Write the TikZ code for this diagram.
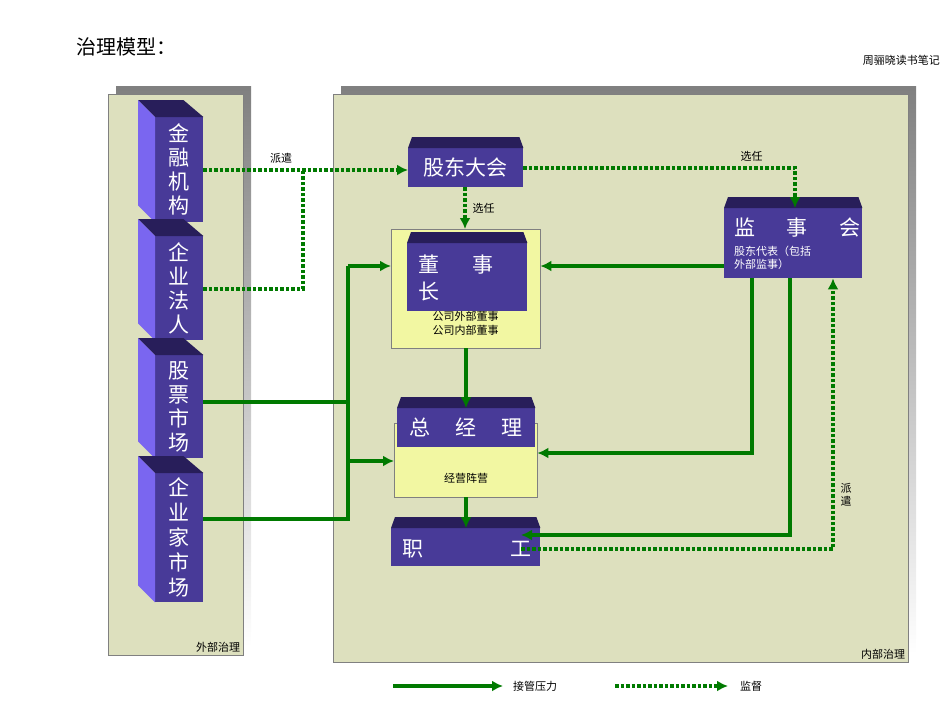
\documentclass[tikz,border=0pt]{standalone}
\usepackage{fontspec}
\setmainfont{Noto Sans CJK SC}
\usetikzlibrary{positioning,calc}
\definecolor{panel}{HTML}{DDE0BE}
\definecolor{shade}{HTML}{C0C0C0}
\definecolor{front}{HTML}{483A98}
\definecolor{capc}{HTML}{281E5A}
\definecolor{sidec}{HTML}{7A66F0}
\definecolor{pale}{HTML}{F2F7A2}
\definecolor{arr}{HTML}{007A00}
\tikzset{
  face/.style={fill=front, inner sep=0pt, anchor=north west},
  big/.style={text=white, font=\fontsize{21}{24}\selectfont, inner sep=0pt},
  small/.style={font=\fontsize{11}{13}\selectfont, inner sep=0pt},
  push/.style={draw=arr, line width=3.2pt, -{Latex[length=11pt,width=11pt]}},
  watch/.style={draw=arr, line width=3.2pt, dash pattern=on 3.5pt off 2pt, -{Latex[length=11pt,width=11pt]}},
}
\usetikzlibrary{arrows.meta}
% left column blocks: front face with a slanted top and side
\newcommand{\slab}[5]{%
  \node[face, minimum width=#3-#1, minimum height=#4-#2] (#5) at (#1,#2) {};
  \fill[capc] (#5.north west) -- ++(-17,-17) -- ($(#5.north east)+(-20,-17)$) -- (#5.north east) -- cycle;
  \fill[sidec] (#5.north west) -- ++(-17,-17) -- ($(#5.south west)+(-17,-17)$) -- (#5.south west) -- cycle;
}
% right blocks: front face with a flat cap
\newcommand{\plate}[5]{%
  \node[face, minimum width=#3-#1, minimum height=#4-#2] (#5) at (#1,#2) {};
  \fill[capc] (#5.north west) -- ++(4,-11) -- ($(#5.north east)+(-4,-11)$) -- (#5.north east) -- cycle;
}
\begin{document}
\begin{tikzpicture}[x=1pt, y=-1pt]
  \useasboundingbox (0,0) rectangle (950,713);

  % panels
  \fill[shade] (116,86) rectangle (251,647);
  \node[fill=panel, draw=gray, inner sep=0pt, minimum width=135, minimum height=561, anchor=north west] (outer) at (108,94) {};
  \fill[shade] (341,86) rectangle (916,654);
  \node[fill=panel, draw=gray, inner sep=0pt, minimum width=575, minimum height=568, anchor=north west] (inner) at (333,94) {};
  \node[small, anchor=south east] at ($(outer.south east)+(-3,-3)$) {外部治理};
  \node[small, anchor=south east] at ($(inner.south east)+(-3,-3)$) {内部治理};

  \node[anchor=west, font=\fontsize{20}{22}\selectfont] (title) at (73,47) {治理模型：};
  \node[anchor=east, small] (note) at (940,60) {周骊晓读书笔记};

  % outside parties
  \slab{155}{117}{203}{222}{bank}
  \slab{155}{236}{203}{340}{firm}
  \slab{155}{355}{203}{458}{stock}
  \slab{155}{473}{203}{602}{boss}
  \node[big, align=center] at (bank) {金\\融\\机\\构};
  \node[big, align=center] at (firm) {企\\业\\法\\人};
  \node[big, align=center] at (stock) {股\\票\\市\\场};
  \node[big, align=center, font=\fontsize{21}{25}\selectfont] at (boss) {企\\业\\家\\市\\场};

  % inside bodies
  \plate{408}{148}{523}{187}{meet}
  \node[big] at (meet) {股东大会};

  \node[fill=pale, draw=gray, inner sep=0pt, minimum width=149, minimum height=119, anchor=north west] (board) at (391,229) {};
  \node[small, anchor=north] (bin) at ($(board.north)+(0,82)$) {公司外部董事};
  \node[small, below=3pt of bin] {公司内部董事};
  \plate{407}{243}{527}{311}{chair}
  \node[big, anchor=west] at (418,265) {董\hspace{1.6em}事};
  \node[big, anchor=west] at (418,292) {长};

  \node[fill=pale, draw=gray, inner sep=0pt, minimum width=143, minimum height=74, anchor=north west] (mgmt) at (394,423) {};
  \node[small] at (466,478) {经营阵营};
  \plate{397}{408}{535}{447}{ceo}
  \node[big] at (ceo) {总\hspace{1.2em}经\hspace{1.2em}理};

  \plate{391}{528}{540}{566}{staff}
  \node[big, anchor=west] at (402,549) {职};
  \node[big, anchor=east] (gong) at (532,549) {工};

  \plate{724}{208}{862}{278}{super}
  \node[big, anchor=west] at (734,228) {监\hspace{1.5em}事\hspace{1.5em}会};
  \node[small, anchor=west, text=white, align=left] at (734,258) {股东代表（包括\\外部监事）};

  % supervision (dashed)
  \draw[watch] (bank.east |- 0,170) -- (meet.west |- 0,170) node[pos=0.38, above=5pt, small, text=black] {派遣};
  \draw[watch, -] (firm.east |- 0,289) -- (303,289) -- (303,170);
  \draw[watch] (meet.east |- 0,168) -| (super.north -| 795,0) node[pos=0.42, above=5pt, small, text=black] {选任};
  \draw[watch] (meet.south -| 465,0) -- (board.north -| 465,0) node[midway, right=6pt, small, text=black] {选任};
  \draw[watch] (gong.center |- 0,549) -| (super.south -| 833,0) node[pos=0.6, right=6pt, small, text=black, align=center] {派\\遣};

  % takeover pressure (solid)
  \draw[push, -] (stock.east |- 0,402) -- (348,402);
  \draw[push, -] (boss.east |- 0,519) -- (348,519) -- (348,266);
  \draw[push] (348,266) -- (board.west |- 0,266);
  \draw[push] (348,461) -- (mgmt.west |- 0,461);
  \draw[push] (super.west |- 0,266) -- (board.east |- 0,266);
  \draw[push] (super.south -| 752,0) |- (mgmt.east |- 0,453);
  \draw[push] (super.south -| 790,0) |- (521,535);
  \draw[push] (board.south -| 466,0) -- (ceo.north -| 466,0);
  \draw[push] (mgmt.south -| 466,0) -- (staff.north -| 466,0);

  % legend
  \coordinate (la) at (393,686);
  \coordinate (lb) at (503,686);
  \coordinate (lc) at (615,686);
  \coordinate (ld) at (728,686);
  \draw[push] (la) -- (lb);
  \node[small, right=10pt of lb] {接管压力};
  \draw[watch] (lc) -- (ld);
  \node[small, right=12pt of ld] {监督};
\end{tikzpicture}
\end{document}
